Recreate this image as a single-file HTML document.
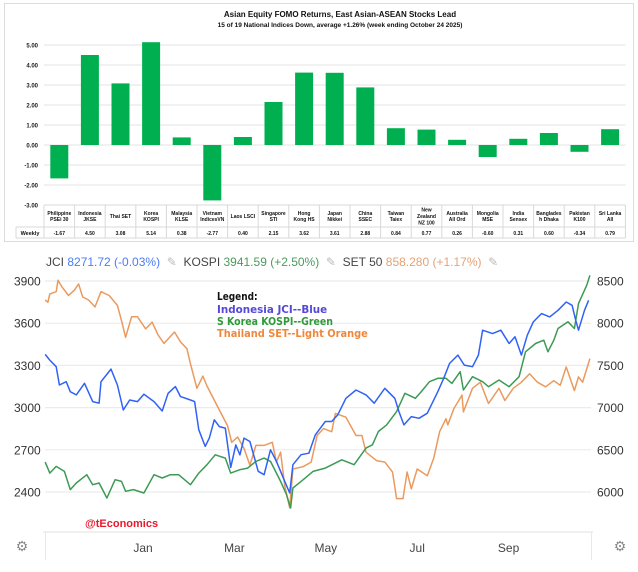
<!DOCTYPE html>
<html><head><meta charset="utf-8">
<style>
body{margin:0;background:#fff;width:638px;height:572px;overflow:hidden;font-family:"Liberation Sans",sans-serif;}
svg{position:absolute;left:0;top:0}
</style></head><body>
<svg width="638" height="572" viewBox="0 0 638 572">
<g id="topg"></g>
<g id="botg"></g>
</svg>
<script>
const NS="http://www.w3.org/2000/svg";
const countries=["Philippine|PSEi 30","Indonesia|JKSE","Thai SET","Korea|KOSPI","Malaysia|KLSE","Vietnam|IndicesVN","Laos LSCI","Singapore|STI","Hong|Kong HS","Japan|Nikkei","China|SSEC","Taiwan|Taiex","New|Zealand|NZ 100","Australia|All Ord","Mongolia|MSE","India|Sensex","Banglades|h Dhaka","Pakistan|K100","Sri Lanka|All"];
const weekly=[-1.67,4.50,3.08,5.14,0.38,-2.77,0.40,2.15,3.62,3.61,2.88,0.84,0.77,0.26,-0.60,0.31,0.60,-0.34,0.79];
const barTicks=[5,4,3,2,1,0,-1,-2,-3];

const jciX=[-2.14,-2.04,-1.90,-1.83,-1.68,-1.59,-1.46,-1.28,-1.10,-0.96,-0.92,-0.70,-0.56,-0.43,-0.29,-0.12,0.02,0.24,0.42,0.55,0.71,0.82,1.04,1.13,1.22,1.36,1.45,1.56,1.67,1.80,1.92,2.03,2.12,2.21,2.34,2.52,2.65,2.79,2.92,3.10,3.21,3.28,3.46,3.63,3.77,3.99,4.13,4.26,4.44,4.66,4.88,5.06,5.29,5.51,5.60,5.71,5.87,6.04,6.22,6.45,6.58,6.71,6.89,7.03,7.21,7.34,7.43,7.65,7.83,8.01,8.14,8.28,8.41,8.54,8.72,8.90,9.08,9.26,9.39,9.46,9.53,9.66,9.75];
const jciV=[3378,3338,3291,3161,3184,3113,3090,3173,3043,3031,3184,3274,3161,2983,3054,3043,3095,3043,2976,3102,3149,3078,3054,3043,2842,2724,2783,2913,2865,2854,2575,2735,2664,2783,2759,2547,2523,2700,2618,2476,2393,2594,2665,2676,2806,2901,2901,2948,3066,3125,3090,3031,3137,3066,2972,2877,2936,2924,2960,3113,3208,3314,3373,3302,3291,3373,3550,3526,3550,3456,3503,3373,3515,3609,3668,3645,3692,3751,3727,3633,3550,3692,3763];
const kospiX=[-2.14,-2.04,-1.90,-1.72,-1.59,-1.46,-1.23,-1.10,-0.96,-0.79,-0.61,-0.47,-0.38,-0.21,0.02,0.24,0.42,0.60,0.78,1.04,1.22,1.40,1.58,1.80,1.92,2.12,2.29,2.47,2.65,2.79,3.01,3.14,3.23,3.28,3.46,3.72,3.99,4.35,4.62,4.88,5.02,5.15,5.33,5.55,5.73,5.96,6.09,6.27,6.45,6.63,6.76,6.94,7.01,7.21,7.43,7.56,7.79,8.01,8.23,8.37,8.59,8.77,8.86,8.99,9.08,9.30,9.44,9.53,9.71,9.78];
const kospiV=[6354,6224,6303,6244,6028,6107,6205,6087,6107,5929,6146,6126,6008,6028,5988,6205,6166,6205,6205,6087,6224,6323,6441,6402,6224,6264,6283,6362,6402,6362,6126,5969,5811,6047,6126,6244,6283,6382,6323,6520,6559,6717,6795,6953,7169,7110,7189,7307,7347,7347,7287,7425,7209,7366,7307,7248,7327,7248,7366,7661,7760,7799,7661,7799,7937,8016,7937,8232,8449,8567];
const setX=[-2.14,-2.08,-2.04,-1.90,-1.86,-1.77,-1.63,-1.50,-1.41,-1.32,-1.19,-1.05,-0.92,-0.74,-0.56,-0.47,-0.38,-0.25,-0.12,0.06,0.20,0.33,0.46,0.69,0.82,0.96,1.04,1.18,1.31,1.40,1.58,1.71,1.85,1.94,2.07,2.21,2.34,2.47,2.65,2.83,2.92,3.01,3.10,3.21,3.28,3.50,3.68,3.81,3.95,4.13,4.21,4.44,4.66,4.79,4.88,5.11,5.29,5.46,5.55,5.69,5.78,5.87,6.00,6.22,6.36,6.49,6.63,6.67,6.80,6.98,7.01,7.21,7.38,7.56,7.79,7.92,8.10,8.28,8.46,8.63,8.81,8.99,9.13,9.26,9.44,9.53,9.62,9.78];
const setV=[935,932,943,946,961,952,941,948,956,939,935,926,946,941,928,908,886,913,913,897,906,889,878,893,880,871,851,819,835,822,801,786,770,748,755,740,718,744,744,748,722,735,691,662,713,716,722,757,766,762,786,781,757,757,735,724,722,709,674,674,709,687,713,704,727,762,779,771,792,810,788,819,827,799,819,803,819,827,838,827,821,829,823,847,816,834,827,858];
const leftTicks=[3900,3600,3300,3000,2700,2400];
const rightTicks=[8500,8000,7500,7000,6500,6000];
const months=["Jan","Mar","May","Jul","Sep"];
const monthPos=[0,2,4,6,8];

function el(tag,attrs,parent,text){const e=document.createElementNS(NS,tag);for(const k in attrs)e.setAttribute(k,attrs[k]);if(text!==undefined)e.textContent=text;parent.appendChild(e);return e;}
const topG=document.getElementById('topg'), botG=document.getElementById('botg');

// ---- bar chart ----
el('rect',{x:4.5,y:3.5,width:629,height:238,fill:'#fff',stroke:'#dcdcdc'},topG);
let t=el('text',{x:340,y:17,'text-anchor':'middle','font-size':8,'font-weight':'bold',fill:'#111'},topG,"Asian Equity FOMO Returns, East Asian-ASEAN Stocks Lead");


t=el('text',{x:340,y:27,'text-anchor':'middle','font-size':6.5,'font-weight':'bold',fill:'#111'},topG,"15 of 19 National Indices Down, average +1.26%  (week ending October 24 2025)");


const by=v=>145-v*20, colW=30.6, col0=44;
barTicks.forEach(v=>{
  const g=el('line',{x1:col0,x2:col0+19*colW,y1:by(v),y2:by(v),stroke:'#e3e3e3'},topG);
  
  
  const l=el('text',{x:38,y:by(v)+2.5,'text-anchor':'end','font-size':6,'font-weight':'bold',fill:'#222'},topG,v.toFixed(2));
  
  
});
weekly.forEach((v,i)=>{
  const cx=col0+colW*(i+0.5);
  const r=el('rect',{x:cx-9,y:Math.min(by(v),by(0)),width:18,height:Math.abs(by(v)-by(0)),fill:'#00b050'},topG);
  
  
});
for(let i=0;i<=19;i++){el('line',{x1:col0+colW*i,x2:col0+colW*i,y1:205,y2:238,stroke:'#d8d8d8'},topG);}
el('line',{x1:16,x2:col0+19*colW,y1:227,y2:227,stroke:'#d8d8d8'},topG);
el('line',{x1:16,x2:col0+19*colW,y1:238,y2:238,stroke:'#d8d8d8'},topG);
el('line',{x1:col0,x2:col0+19*colW,y1:205,y2:205,stroke:'#d8d8d8'},topG);
el('line',{x1:16,x2:16,y1:227,y2:238,stroke:'#d8d8d8'},topG);
t=el('text',{x:30,y:235,'text-anchor':'middle','font-size':5.5,'font-weight':'bold',fill:'#111'},topG,"Weekly");


countries.forEach((c,i)=>{
  const cx=col0+colW*(i+0.5), lines=c.split('|');
  const y0=216-(lines.length-1)*3.2+2;
  lines.forEach((ln,j)=>{const tt=el('text',{x:cx,y:y0+j*6.4,'text-anchor':'middle','font-size':5,'font-weight':'bold',fill:'#111'},topG,ln);
    
    });
  const tv=el('text',{x:cx,y:235,'text-anchor':'middle','font-size':5,'font-weight':'bold',fill:'#111'},topG,weekly[i].toFixed(2));
  
  
});

// ---- line chart ----
const X=m=>143+m*45.7;
const YL=v=>281+(3900-v)/1500*211;
const YR=v=>281+(8500-v)/2500*211;
const YS=v=>281+(960-v)*0.761;
leftTicks.forEach((v,i)=>{
  const g=el('line',{x1:45,x2:591,y1:YL(v),y2:YL(v),stroke:'#ececec','stroke-width':1.2},botG);
  
  
  const l=el('text',{x:14,y:YL(v)+4.5,'font-size':12,fill:'#333'},botG,String(v));
  
  
  const r=el('text',{x:597,y:YR(rightTicks[i])+4.5,'font-size':12,fill:'#333'},botG,String(rightTicks[i]));
  
  
});
el('line',{x1:43,x2:593,y1:532,y2:532,stroke:'#e0e0e0'},botG);
el('line',{x1:45.5,x2:45.5,y1:532,y2:560,stroke:'#e8e8e8'},botG);
el('line',{x1:591.5,x2:591.5,y1:532,y2:560,stroke:'#e8e8e8'},botG);
months.forEach((m,i)=>{const l=el('text',{x:X(monthPos[i]),y:552,'text-anchor':'middle','font-size':12,fill:'#444'},botG,m);
  
  });
function line(xs,vs,Y,col,name){
  const d=xs.map((m,i)=>(i?'L':'M')+X(m).toFixed(1)+' '+Y(vs[i]).toFixed(1)).join('');
  const p=el('path',{d:d,fill:'none',stroke:col,'stroke-width':1.5,'stroke-linejoin':'round'},botG);
  
  
}
line(setX,setV,YS,'#ea9a5e','set50-line');
line(kospiX,kospiV,YR,'#3d9a55','kospi-line');
line(jciX,jciV,YL,'#2f62f5','jci-line');
const hdr=el('text',{x:46,y:266,'font-size':12,style:'white-space:pre'},botG);


[["JCI ","#444"],["8271.72 (-0.03%)","#4a7cf5"],["  ✎  ","#bbb"],["KOSPI ","#444"],["3941.59 (+2.50%)","#4c9a5c"],["  ✎  ","#bbb"],["SET 50 ","#444"],["858.280 (+1.17%)","#e4a276"],["  ✎","#bbb"]].forEach(s=>{el('tspan',{fill:s[1]},hdr,s[0]);});
const lg=[["Legend:","#111",300],["Indonesia JCI--Blue","#5548d8",313],["S Korea KOSPI--Green","#2f9a3a",325],["Thailand SET--Light Orange","#f0873a",337]];
lg.forEach(s=>{const l=el('text',{x:217,y:s[2],'font-size':11,'font-weight':'bold',fill:s[1],'font-family':'DejaVu Sans, sans-serif','textLength':s[0].length*5.8,'lengthAdjust':'spacingAndGlyphs'},botG,s[0]);
  
  });
const w=el('text',{x:85,y:527,'font-size':11,'font-weight':'bold',fill:'#e8192c'},botG,"@tEconomics");


[[22,546],[620,546]].forEach(p=>{
  const g=el('text',{x:p[0],y:p[1]+5,'text-anchor':'middle','font-size':14,fill:'#888'},botG,"⚙");
  
  
});
</script>
</body></html>
